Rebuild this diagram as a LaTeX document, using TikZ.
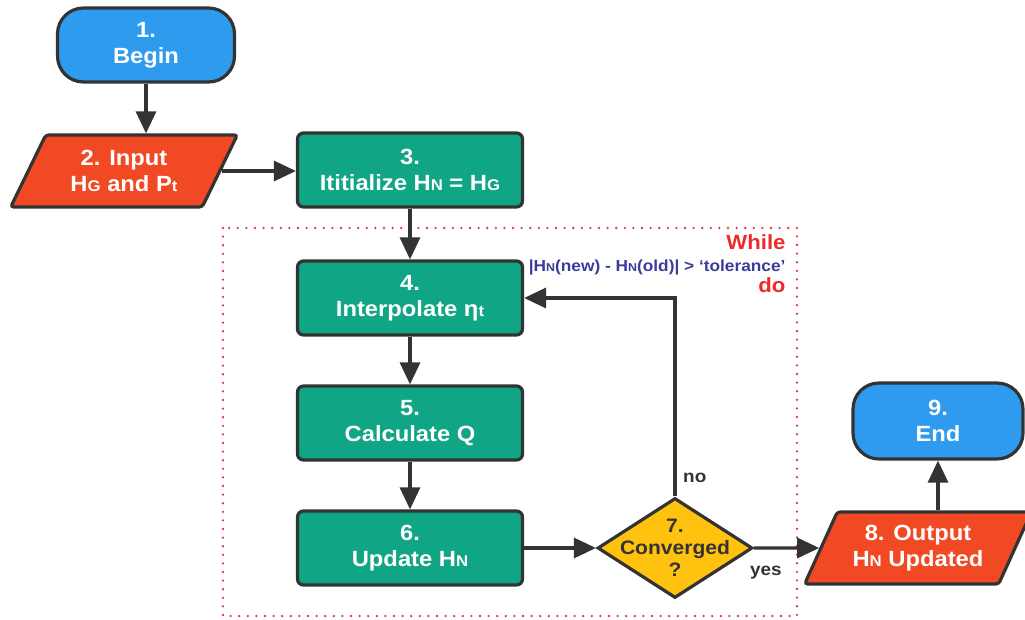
\documentclass[tikz,border=0pt]{standalone}
\usepackage{fontspec}
\setmainfont{Liberation Sans}[FakeStretch=1.08]
\usetikzlibrary{shapes.geometric,arrows.meta}
\definecolor{cblue}{HTML}{2F9BEF}
\definecolor{cred}{HTML}{F04923}
\definecolor{cteal}{HTML}{10A585}
\definecolor{cyel}{HTML}{FFC20E}
\definecolor{cline}{HTML}{333333}
\definecolor{cdot}{HTML}{EE3340}
\definecolor{ctxtblue}{HTML}{3B3B9B}
\definecolor{ctxtred}{HTML}{EE2A2A}
\newcommand\sm[1]{{\fontsize{15.5}{15.5}\selectfont #1}}
\newcommand\smb[1]{{\fontsize{11.5}{11.5}\selectfont #1}}
\begin{document}
\begin{tikzpicture}[x=1pt,y=-1pt, font=\bfseries\fontsize{22}{26}\selectfont,
 base/.style={draw=cline, line width=3.2pt, text=white, align=center, inner sep=0pt},
 term/.style={base, fill=cblue, rounded corners=26pt, minimum width=177pt, minimum height=74pt},
 proc/.style={base, fill=cteal, rounded corners=6pt, minimum width=225pt, minimum height=74pt},
 io/.style={base, fill=cred, trapezium, trapezium left angle=60, trapezium right angle=120, trapezium stretches=true, minimum width=227pt, minimum height=72pt, rounded corners=3pt},
 dec/.style={base, fill=cyel, diamond, minimum width=155pt, minimum height=100pt},
 dectext/.style={text=cline, align=center, inner sep=0pt, font=\bfseries\fontsize{19.5}{22}\selectfont},
 lbl/.style={text=cline, inner sep=0pt, font=\bfseries\fontsize{17.5}{17.5}\selectfont},
 conn/.style={draw=cline, line width=3.2pt, -{Triangle[length=22pt,width=20pt]}},
 dotbox/.style={draw=cdot, line width=2.6pt, dash pattern=on 0pt off 8.6pt, line cap=round},
]
\useasboundingbox (0,0) rectangle (1025,619);
\draw[dotbox] (223,228) rectangle (797,616);

\node[term] (n1) at (146,45) {1.\\Begin};
\node[io] (n2) at (124,171) {2. Input\\H\sm{G} and P\sm{t}};
\node[proc] (n3) at (410,170) {3.\\Ititialize H\sm{N} = H\sm{G}};
\node[proc] (n4) at (410,298) {4.\\Interpolate η\sm{t}};
\node[proc] (n5) at (410,423) {5.\\Calculate Q};
\node[proc] (n6) at (410,548) {6.\\Update H\sm{N}};
\node[dec] (d7) at (675,548) {};
\node[dectext] (d7t) at (675,548) {7.\\Converged\\?};
\node[io] (n8) at (918,548) {8. Output\\H\sm{N} Updated};
\node[term, minimum width=170pt, minimum height=76pt] (n9) at (938,421) {9.\\End};

\node[anchor=base east, text=ctxtred, font=\bfseries\fontsize{20.5}{20.5}\selectfont] (wh) at (789,249) {While};
\node[anchor=base east, text=ctxtblue, font=\bfseries\fontsize{16}{16}\selectfont] (cond) at (789,271) {|H\smb{N}(new) - H\smb{N}(old)| > ‘tolerance’};
\node[anchor=base east, text=ctxtred, font=\bfseries\fontsize{20.5}{20.5}\selectfont] (do) at (789,292) {do};

\node[lbl, anchor=base west] (no) at (683,482) {no};
\node[lbl, anchor=base west] (yes) at (750,575) {yes};

\draw[conn] (n1.south) -- (n1.south |- n2.north);
\draw[conn] (n2.east) -- (n2.east -| n3.west);
\draw[conn] (n3) -- (n4);
\draw[conn] (n4) -- (n5);
\draw[conn] (n5) -- (n6);
\draw[conn] (n6.east) -- (d7.west);
\draw[conn] (d7.north) |- (n4.east);
\draw[conn] (d7.east) -- (n8.west);
\draw[conn] (n9.south |- n8.north) -- (n9.south);
\end{tikzpicture}
\end{document}
